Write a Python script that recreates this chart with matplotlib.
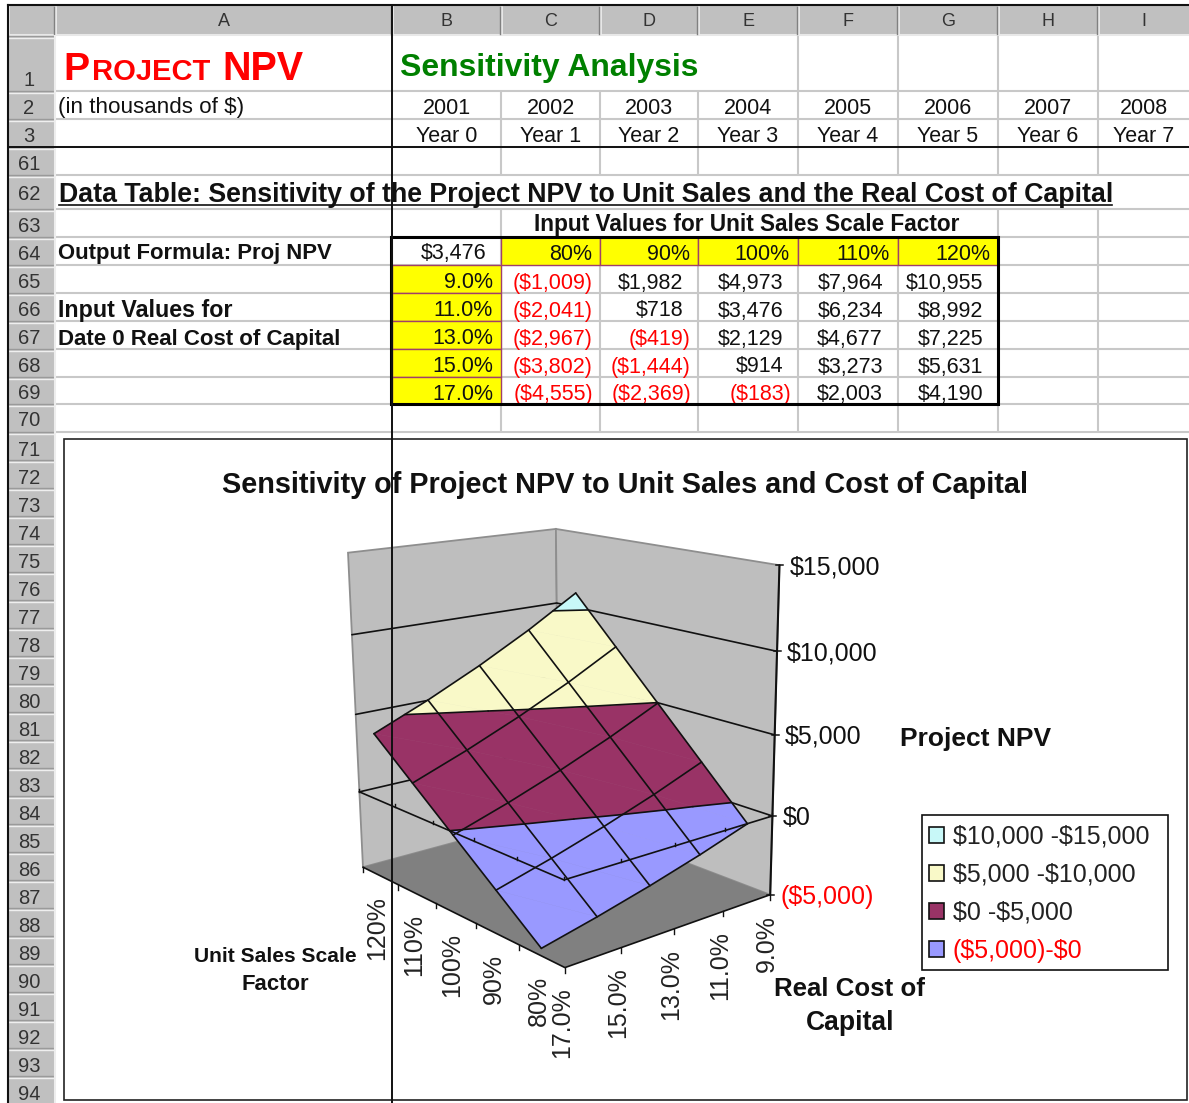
import numpy as np
import matplotlib
matplotlib.use('Agg')
import matplotlib.pyplot as plt
from matplotlib.patches import Rectangle, Polygon, Patch
from matplotlib.collections import LineCollection

plt.rcParams['font.family'] = ['Liberation Sans', 'DejaVu Sans']

# data
years = ['2001', '2002', '2003', '2004', '2005', '2006', '2007', '2008']
year_labels = ['Year 0', 'Year 1', 'Year 2', 'Year 3', 'Year 4', 'Year 5', 'Year 6', 'Year 7']
col_names = ['A', 'B', 'C', 'D', 'E', 'F', 'G', 'H', 'I']
row_names = ['1', '2', '3', '61', '62', '63', '64', '65', '66', '67', '68', '69', '70'] + [str(n) for n in range(71, 95)]
sales = ['80%', '90%', '100%', '110%', '120%']
costs = ['9.0%', '11.0%', '13.0%', '15.0%', '17.0%']
npv = np.array([[-1009, 1982, 4973, 7964, 10955],
                [-2041, 718, 3476, 6234, 8992],
                [-2967, -419, 2129, 4677, 7225],
                [-3802, -1444, 914, 3273, 5631],
                [-4555, -2369, -183, 2003, 4190]], dtype=float)
base_npv = 3476
levels = [-5000, 0, 5000, 10000, 15000]
z_labels = ['($5,000)', '$0', '$5,000', '$10,000', '$15,000']
band_labels = [r'(\$5,000)-\$0', r'\$0 -\$5,000', r'\$5,000 -\$10,000', r'\$10,000 -\$15,000']
band_colors = ['#9999FF', '#993366', '#F9F9C8', '#C8F8F8']

# sheet layout in pixels
col_x = [55, 392, 501, 600, 698, 798, 898, 998, 1098, 1189]
row_y = [36, 91, 119, 147, 175, 209, 237, 265, 293, 321, 349, 377, 404, 432] + [432 + 28 * k for k in range(1, 24)]
GRID = '#C8C8C8'
HEAD = '#C0C0C0'

fig = plt.figure(figsize=(11.89, 11.03), dpi=100)
ax = fig.add_axes([0, 0, 1, 1])
ax.set_xlim(0, 1189)
ax.set_ylim(1103, 0)
ax.axis('off')
renderer = fig.canvas.get_renderer()


def txt(x, y, s, size=15.5, weight='normal', color='#111111', ha='left', va='center', width=None, **kw):
    if va == 'center':
        y += 2  # bbox centre sits a little above the glyph centre
    t = ax.text(x, y, s, fontsize=size, fontweight=weight, color=color, ha=ha, va=va, **kw)
    if width is not None:
        # scale the font so the string covers the same width as in the sheet
        w = t.get_window_extent(renderer).width
        t.set_fontsize(size * width / w)
    return t


# sheet gridlines
for i, x in enumerate(col_x[1:-1]):
    if x == 392:
        continue
    segs = []
    for r in range(len(row_y[:14]) - 1):
        y0, y1 = row_y[r], row_y[r + 1]
        if r == 0 and x < 798:
            continue
        if r == 4:
            continue
        if r == 5 and 501 < x < 998:
            continue
        segs.append([(x, y0), (x, min(y1, 439))])
    ax.add_collection(LineCollection(segs, colors=GRID, linewidths=1.5, zorder=1))
for y in row_y[1:14]:
    ax.plot([55, 1189], [y, y], color=GRID, lw=1.5, zorder=1)

# row and column headers
ax.add_patch(Rectangle((8, 6), 1181, 29, fc=HEAD, ec='none', zorder=2))
ax.add_patch(Rectangle((8, 6), 47, 1100, fc=HEAD, ec='none', zorder=2))
ax.plot([8, 1189], [35, 35], color='#E8E8E8', lw=1.5, zorder=3)
for x in [8] + col_x[:-1]:
    ax.plot([x + 1, x + 1], [7, 34], color='#F0F0F0', lw=1.2, zorder=3)
    if x > 8:
        ax.plot([x - 1, x - 1], [7, 34], color='#808080', lw=1.0, zorder=3)
for y in row_y:
    ax.plot([9, 54], [y, y], color='#9A9A9A', lw=1.0, zorder=3)
    ax.plot([9, 54], [y + 1.5, y + 1.5], color='#EFEFEF', lw=1.0, zorder=3)
ax.plot([55, 55], [36, 1103], color='#EDEDED', lw=1.5, zorder=3)
ax.plot([8, 1189], [5, 5], color='#111111', lw=1.5, zorder=3)
ax.plot([7.5, 7.5], [5, 1103], color='#111111', lw=1.5, zorder=3)

for i, name in enumerate(col_names):
    txt((col_x[i] + col_x[i + 1]) / 2, 20, name, size=13, ha='center', color='#333333', zorder=4)
for i, name in enumerate(row_names):
    yc = (row_y[i] + row_y[i + 1]) / 2 + 1 if i + 1 < len(row_y) else row_y[i] + 15
    if i == 0:
        yc = 78
    if i > 12:
        yc += 2
    txt(29, yc, name, size=14.5, ha='center', color='#333333', zorder=4)

# top rows
txt(63, 80, 'P', size=30, weight='bold', color='#FF0000', va='baseline', width=26)
txt(92, 80, 'ROJECT', size=22, weight='bold', color='#FF0000', va='baseline', width=118)
txt(222, 80, 'NPV', size=30, weight='bold', color='#FF0000', va='baseline', width=81)
txt(400, 76, 'Sensitivity Analysis', size=24, weight='bold', color='#008000', va='baseline', width=300)
txt(58, 106, '(in thousands of $)', width=185)
for i in range(8):
    cx = (col_x[i + 1] + col_x[i + 2]) / 2
    txt(cx, 106, years[i], ha='center')
    txt(cx, 134, year_labels[i], ha='center')

txt(59, 193, 'Data Table: Sensitivity of the Project NPV to Unit Sales and the Real Cost of Capital',
    size=16, weight='bold', width=1053)
ax.plot([59, 1112], [205, 205], color='#111111', lw=1.2, zorder=5)
txt(534, 223, 'Input Values for Unit Sales Scale Factor', size=14, weight='bold', width=427)
txt(58, 252, 'Output Formula: Proj NPV', size=14, weight='bold', width=275)
txt(58, 308, 'Input Values for', size=14, weight='bold', width=175)
txt(58, 337, 'Date 0 Real Cost of Capital', size=14, weight='bold', width=284)


def money(v):
    return f'${v:,.0f}' if v >= 0 else f'(${-v:,.0f})'


# data table
for j in range(5):
    x0, x1 = col_x[j + 2], col_x[j + 3]
    ax.add_patch(Rectangle((x0, 237), x1 - x0, 28, fc='#FFFF00', ec='#A0406A', lw=1, zorder=2))
    txt(x1 - 8, 252, sales[j], ha='right')
for i in range(5):
    y0, y1 = row_y[7 + i], row_y[8 + i]
    yc = (y0 + y1) / 2 + 2
    ax.add_patch(Rectangle((392, y0), 109, y1 - y0, fc='#FFFF00', ec='#A0406A', lw=1, zorder=2))
    txt(493, yc, costs[i], ha='right')
    for j in range(5):
        v = npv[i, j]
        txt(col_x[j + 3] - (15 if v >= 0 else 7), yc, money(v), ha='right',
            color='#FF0000' if v < 0 else '#111111')
txt(486, 252, money(base_npv), ha='right')
ax.add_patch(Rectangle((391, 237), 607, 167, fc='none', ec='black', lw=2.2, zorder=6))

# chart area
ax.add_patch(Rectangle((63.5, 439), 1123.5, 660.5, fc='white', ec='#222222', lw=1.2, zorder=7))
ZC = 8

# camera fitted from points: (u along sales, v along cost, z) -> pixel
calib_box = np.array([[0, 0, -5000], [0, 0, 0], [1, 0, -5000], [1, 0, 0], [1, 0, 15000],
                      [0, 1, -5000], [0, 1, 0], [0, 1, 15000], [1, 1, -5000], [1, 1, 15000],
                      [.1, 0, -4555], [.9, 0, 4190], [.1, 1, -1009], [.9, 1, 10955]], dtype=float)
calib_px = np.array([[565, 967], [567, 879], [362, 867], [358, 794], [349, 553],
                     [770, 897], [773, 817], [780, 564], [562, 812], [556, 528],
                     [540, 948], [374, 733], [745, 823], [574, 595]], dtype=float)


def fit_camera(box, px):
    scaled = box * [1, 1, 1e-4]
    rows, rhs = [], []
    for (a, b, c), (x, y) in zip(scaled, px):
        rows.append([a, b, c, 1, 0, 0, 0, 0, -x * a, -x * b, -x * c])
        rows.append([0, 0, 0, 0, a, b, c, 1, -y * a, -y * b, -y * c])
        rhs += [x, y]
    p = np.linalg.lstsq(np.array(rows), np.array(rhs), rcond=None)[0]
    return np.append(p, 1).reshape(3, 4)


CAM = fit_camera(calib_box, calib_px)


def proj(pts):
    pts = np.atleast_2d(np.asarray(pts, dtype=float))
    h = np.c_[pts[:, 0], pts[:, 1], pts[:, 2] * 1e-4, np.ones(len(pts))]
    q = h @ CAM.T
    return q[:, :2] / q[:, 2:]


def poly3(pts, **kw):
    ax.add_patch(Polygon(proj(pts), closed=True, zorder=kw.pop('zorder', ZC), **kw))


zmin, zmax = levels[0], levels[-1]
wall = '#BEBEBE'
edge = '#8E8E8E'
poly3([(1, 0, zmin), (1, 1, zmin), (1, 1, zmax), (1, 0, zmax)], fc=wall, ec=edge, lw=1.3)
poly3([(0, 1, zmin), (1, 1, zmin), (1, 1, zmax), (0, 1, zmax)], fc=wall, ec=edge, lw=1.3)
poly3([(0, 0, zmin), (1, 0, zmin), (1, 1, zmin), (0, 1, zmin)], fc='#808080', ec='none')


def line3(pts, color='#111111', lw=1.2, zorder=ZC + 1):
    p = proj(pts)
    ax.plot(p[:, 0], p[:, 1], color=color, lw=lw, zorder=zorder, solid_capstyle='round')


for z in levels[1:-1]:
    line3([(1, 0, z), (1, 1, z), (0, 1, z)])


def clip_poly(poly, lo, hi):
    # Sutherland-Hodgman on z
    for sign, lim in ((1, lo), (-1, hi)):
        out = []
        for a, b in zip(poly, poly[1:] + poly[:1]):
            da, db = sign * (a[2] - lim), sign * (b[2] - lim)
            if da >= 0:
                out.append(a)
            if da * db < 0:
                t = da / (da - db)
                out.append(tuple(np.add(a, t * np.subtract(b, a))))
        poly = out
        if not poly:
            break
    return poly


def contour_seg(tri, level):
    hits = []
    for a, b in zip(tri, tri[1:] + tri[:1]):
        if (a[2] - level) * (b[2] - level) < 0:
            t = (level - a[2]) / (b[2] - a[2])
            hits.append(tuple(np.add(a, t * np.subtract(b, a))))
    return hits if len(hits) == 2 else None


# surface nodes: sales series sit mid-interval on their axis, cost runs edge to edge
us = [(k + .5) / len(sales) for k in range(len(sales))]
vs = [1 - i / (len(costs) - 1) for i in range(len(costs))]
node = lambda i, k: (us[k], vs[i], npv[i, k])

for i in range(4):
    for k in range(4):
        a, b, c, d = node(i, k), node(i, k + 1), node(i + 1, k + 1), node(i + 1, k)
        for tri in ([a, b, c], [a, c, d]):
            for n in range(4):
                clipped = clip_poly(tri, levels[n], levels[n + 1])
                if len(clipped) >= 3:
                    poly3(clipped, fc=band_colors[n], ec=band_colors[n], lw=0.4, zorder=ZC + 2)
            for level in levels[1:-1]:
                seg = contour_seg(tri, level)
                if seg:
                    line3(seg, lw=1.2, zorder=ZC + 3)

for i in range(5):
    line3([node(i, k) for k in range(5)], zorder=ZC + 3)
for k in range(5):
    line3([node(i, k) for i in range(5)], zorder=ZC + 3)

# axis lines at z=0 and on the floor, with ticks
for z, tick_dir in ((0, -3), (zmin, 5)):
    line3([(1, 0, z), (0, 0, z), (0, 1, z)], zorder=ZC + 4)
    pts = [(k / 5, 0, z) for k in range(6)] + [(0, j / 4, z) for j in range(1, 5)]
    for px, py in proj(pts):
        ax.plot([px, px], [py, py + tick_dir], color='#111111', lw=1.0, zorder=ZC + 4)

# z axis
line3([(0, 1, zmin), (0, 1, zmax)], lw=1.5, zorder=ZC + 4)
for z, lab in zip(levels, z_labels):
    px, py = proj([(0, 1, z)])[0]
    ax.plot([px - 3, px + 4], [py, py], color='#111111', lw=1.1, zorder=ZC + 4)
    txt(px + 10, py, lab, size=18, color='#FF0000' if z < 0 else '#111111', zorder=ZC + 5)

# rotated category labels
for k, lab in enumerate(sales):
    px, py = proj([(us[k], 0, zmin)])[0]
    txt(px - 3, py + 20, lab, size=18, rotation=90, ha='center', va='top', color='#222222', zorder=ZC + 5)
for i, lab in enumerate(costs):
    px, py = proj([(0, vs[i], zmin)])[0]
    txt(px - 3, py + 20, lab, size=18, rotation=90, ha='center', va='top', color='#222222', zorder=ZC + 5)

# chart titles
txt(222, 483, 'Sensitivity of Project NPV to Unit Sales and Cost of Capital', size=18, weight='bold',
    width=808, zorder=ZC + 5)
txt(900, 737, 'Project NPV', size=18, weight='bold', width=151, zorder=ZC + 5)
txt(850, 987, 'Real Cost of', size=18, weight='bold', ha='center', width=151, zorder=ZC + 5)
txt(850, 1021, 'Capital', size=18, weight='bold', ha='center', width=88, zorder=ZC + 5)
txt(275, 954, 'Unit Sales Scale', size=14, weight='bold', ha='center', width=163, zorder=ZC + 5)
txt(275, 982, 'Factor', size=14, weight='bold', ha='center', width=68, zorder=ZC + 5)

# legend, top band first; frame drawn apart since it is wider than the entries
ax.add_patch(Rectangle((922, 815), 246, 155, fc='white', ec='#111111', lw=1.2, zorder=ZC + 5))
handles = [Patch(fc=c, ec='#111111', lw=1.2, label=l) for c, l in zip(band_colors[::-1], band_labels[::-1])]
leg = ax.legend(handles=handles, loc='upper left', bbox_to_anchor=(919.5 / 1189, 1 - 815 / 1103),
                bbox_transform=fig.transFigure, borderaxespad=0, fontsize=18, frameon=False,
                handlelength=0.6, handleheight=0.6, handletextpad=0.35, labelspacing=0.564, borderpad=0.38)
leg.set_zorder(ZC + 6)
for t in leg.get_texts():
    t.set_color('#222222')
leg.get_texts()[-1].set_color('#FF0000')

# freeze pane lines sit on top of everything
ax.plot([392, 392], [6, 1103], color='#111111', lw=1.4, zorder=30)
ax.plot([8, 1189], [147, 147], color='#111111', lw=1.4, zorder=30)

fig.savefig('out.png', dpi=100)
